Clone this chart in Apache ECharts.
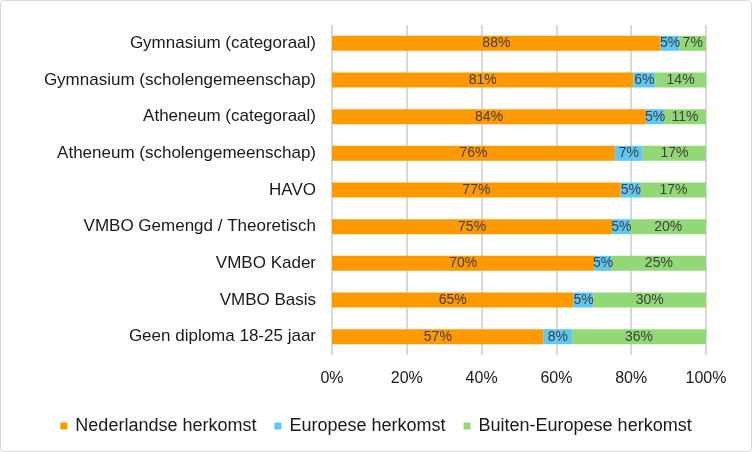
<!DOCTYPE html>
<html>
<head>
<meta charset="utf-8">
<script src="https://cdn.jsdelivr.net/npm/echarts@6/dist/echarts.min.js"></script>
<style>
  html, body { margin: 0; padding: 0; background: #fff; }
  #chart { width: 752px; height: 452px; box-sizing: border-box; border: 1px solid #d9d9d9; border-radius: 4px; }
</style>
</head>
<body>
<div id="chart"></div>
<script>
var categories = [
    'Gymnasium (categoraal)',
    'Gymnasium (scholengemeenschap)',
    'Atheneum (categoraal)',
    'Atheneum (scholengemeenschap)',
    'HAVO',
    'VMBO Gemengd / Theoretisch',
    'VMBO Kader',
    'VMBO Basis',
    'Geen diploma 18-25 jaar'
];
var seriesNames = ['Nederlandse herkomst', 'Europese herkomst', 'Buiten-Europese herkomst'];
var nederlands = [87.9, 80.6, 84.0, 75.7, 77.2, 74.9, 70.2, 64.6, 56.6];
var europees = [5.0, 5.8, 4.8, 7.4, 5.4, 4.9, 4.6, 5.3, 7.6];
var buitenEuropees = [7.1, 13.6, 11.2, 16.9, 17.4, 20.2, 25.2, 30.1, 35.8];
var tickLabels = ['0%', '20%', '40%', '60%', '80%', '100%'];

var colors = ['#ff9900', '#5ec8f2', '#92d877'];
var font = 'Liberation Sans, Arial, sans-serif';

var myChart = echarts.init(document.getElementById('chart'));

function makeSeries(name, data, color) {
    return {
        name: name,
        type: 'bar',
        stack: 'total',
        barWidth: 15,
        color: color,
        data: data,
        label: {
            show: true,
            position: 'inside',
            color: '#404040',
            fontFamily: font,
            fontSize: 14,
            formatter: function (p) { return Math.round(p.value) + '%'; }
        }
    };
}

var option = {
    animation: false,
    textStyle: { fontFamily: font },
    grid: {
        left: 331,
        right: 45,
        top: 24,
        bottom: 96
    },
    legend: {
        data: seriesNames,
        left: 'center',
        top: 411,
        itemWidth: 7,
        itemHeight: 7,
        itemGap: 18,
        icon: 'rect',
        textStyle: {
            color: '#1a1a1a',
            fontSize: 18,
            fontFamily: font,
            padding: [0, 0, 0, 3]
        }
    },
    xAxis: {
        type: 'value',
        min: 0,
        max: 100,
        interval: 20,
        axisLine: { show: false },
        axisTick: { show: false },
        splitLine: { show: true, lineStyle: { color: '#d9d9d9', width: 2 } },
        axisLabel: {
            color: '#1a1a1a',
            fontSize: 16,
            fontFamily: font,
            margin: 16,
            formatter: function (v) { return tickLabels[v / 20]; }
        }
    },
    yAxis: {
        type: 'category',
        inverse: true,
        data: categories,
        axisLine: { show: false },
        axisTick: { show: false },
        axisLabel: {
            color: '#1a1a1a',
            fontSize: 17,
            fontFamily: font,
            margin: 16
        }
    },
    series: [
        makeSeries(seriesNames[0], nederlands, colors[0]),
        makeSeries(seriesNames[1], europees, colors[1]),
        makeSeries(seriesNames[2], buitenEuropees, colors[2])
    ]
};

myChart.setOption(option);
</script>
</body>
</html>
